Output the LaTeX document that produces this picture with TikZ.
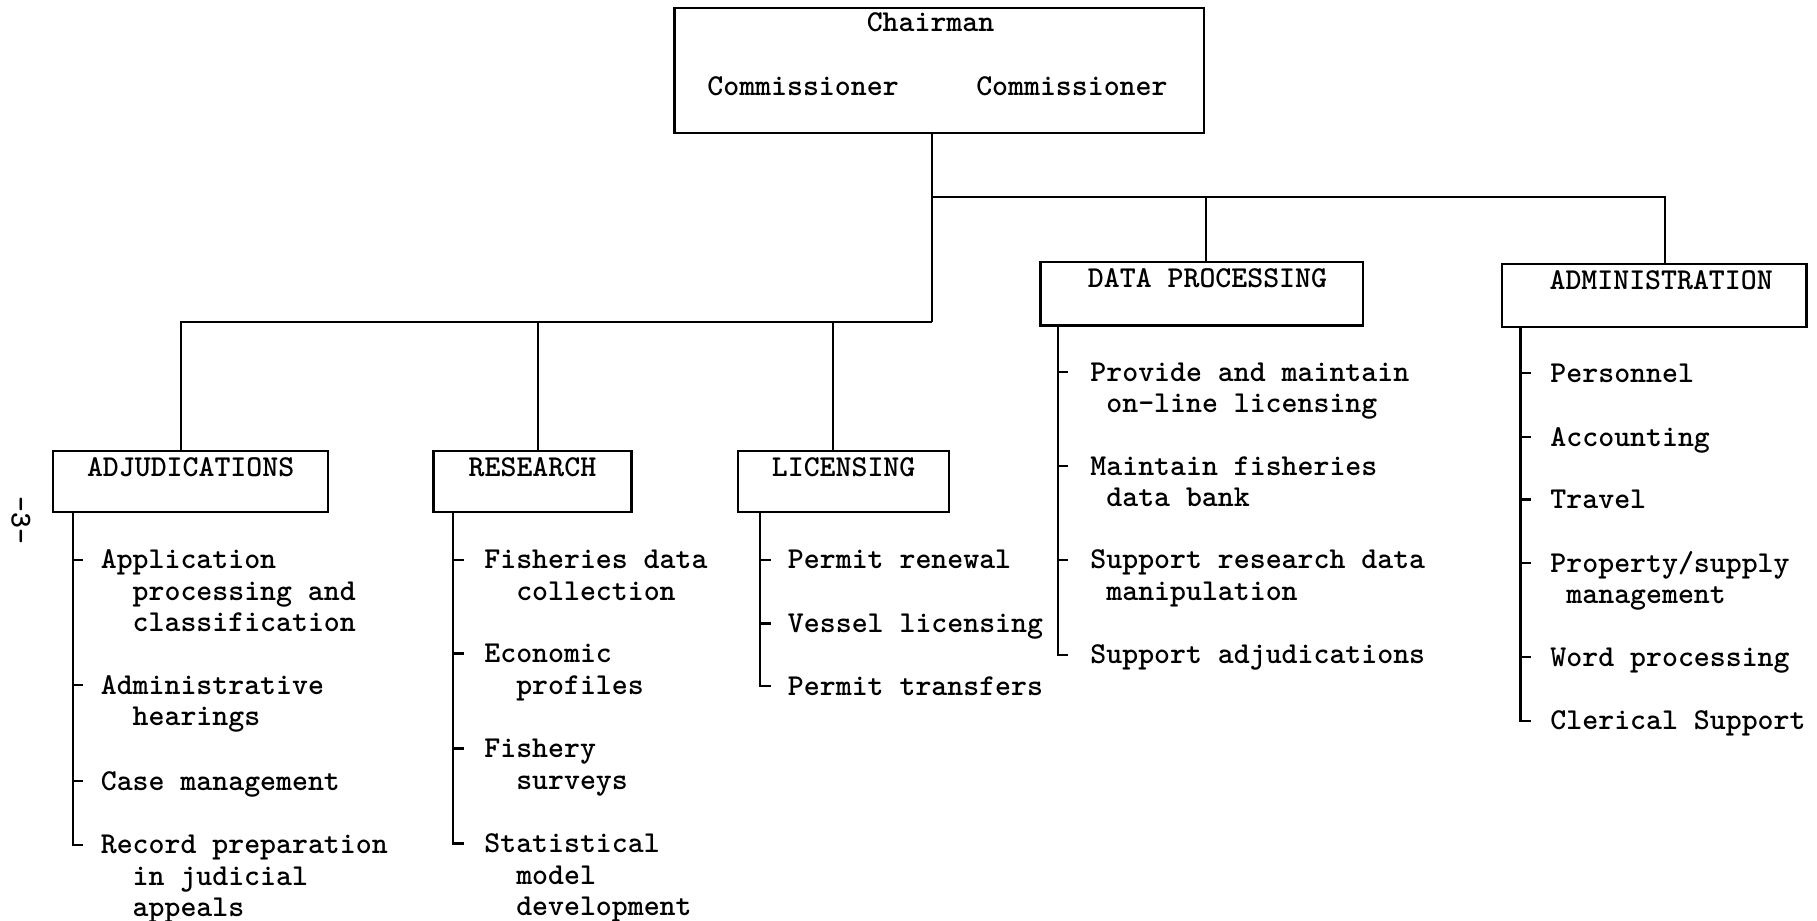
\documentclass[tikz,border=0pt]{standalone}
\usetikzlibrary{calc}
\newcommand\itemfont{\ttfamily\bfseries\fontsize{13.1}{13.5}\selectfont}
\newcommand\indtwo{\hphantom{xx}}
\newcommand\indone{\hphantom{x}}
\newcommand\tickto[2]{\coordinate (#2t) at ([yshift=-6pt]#2.north west); \draw (#1 |- #2t) -- ++(9,0);}
\newcommand\lastto[2]{\coordinate (#2t) at ([yshift=-6pt]#2.north west); \draw (#1) -- (#1 |- #2t) -- ++(9,0);}
\begin{document}
\begin{tikzpicture}[x=0.5pt,y=-0.5pt,line width=1pt,
  box/.style={draw, inner sep=0pt, font=\itemfont, text height=11pt, anchor=north west},
  item/.style={font=\itemfont, inner sep=0pt, anchor=north west, align=left},
  lbl/.style={font=\itemfont, inner sep=0pt, anchor=base}]
\useasboundingbox (0,0) rectangle (1568,794);
% top box
\node[draw, inner sep=0pt, minimum width=228.5pt, minimum height=54pt, anchor=north west] (top) at (581,6) {};
\node[lbl] (chair) at (803,27) {Chairman};
\node[lbl] (com1) at (693,82) {Commissioner};
\node[lbl] (com2) at (925,82) {Commissioner};
% branch boxes
\node[box, minimum width=118.5pt, minimum height=26.5pt, text depth=15.5pt] (adj) at (45,388) {ADJUDICATIONS};
\node[box, minimum width=85.5pt, minimum height=26.5pt, text depth=15.5pt] (res) at (373,388) {RESEARCH};
\node[box, minimum width=91pt, minimum height=26.5pt, text depth=15.5pt] (lic) at (636,388) {LICENSING};
\node[box, minimum width=139pt, minimum height=27.5pt, text depth=16.5pt] (dp) at (897,225) {\hspace{5pt}DATA PROCESSING};
\node[box, minimum width=131.5pt, minimum height=27pt, text depth=16pt] (adm) at (1295,227) {\hspace{6pt}ADMINISTRATION};
% page number
\node[font=\itemfont, rotate=-90, inner sep=0pt] (pg) at (18,449) {-3-};
% connectors
\coordinate (j1) at (804,170);
\coordinate (j2) at (804,278);
\draw (top.south -| j1) -- (j2);
\draw ([xshift=-4.25pt]adj.north) |- (j2);
\draw ([xshift=2.25pt]res.north) -- ([xshift=2.25pt]res.north |- j2);
\draw ([xshift=-4.5pt]lic.north) -- ([xshift=-4.5pt]lic.north |- j2);
\draw ([xshift=2pt]dp.north) |- (j1) -| ([xshift=4.75pt]adm.north);
% spines
\coordinate (sa) at ([xshift=9pt]adj.south west);
\coordinate (sr) at ([xshift=9pt]res.south west);
\coordinate (sl) at ([xshift=10pt]lic.south west);
\coordinate (sd) at ([xshift=8pt]dp.south west);
\coordinate (sm) at ([xshift=8.5pt]adm.south west);
% adjudications items
\node[item] (a1) at (86,471) {\strut Application\\\indtwo processing and\\\indtwo classification};
\node[item] (a2) at (86,579) {\strut Administrative\\\indtwo hearings};
\node[item] (a3) at (86,662) {\strut Case management};
\node[item] (a4) at (86,717) {\strut Record preparation\\\indtwo in judicial\\\indtwo appeals};
\tickto{sa}{a1}\tickto{sa}{a2}\tickto{sa}{a3}\lastto{sa}{a4}
% research items
\node[item] (r1) at (417,471) {\strut Fisheries data\\\indtwo collection};
\node[item] (r2) at (417,552) {\strut Economic\\\indtwo profiles};
\node[item] (r3) at (417,634) {\strut Fishery\\\indtwo surveys};
\node[item] (r4) at (417,716) {\strut Statistical\\\indtwo model\\\indtwo development};
\tickto{sr}{r1}\tickto{sr}{r2}\tickto{sr}{r3}\lastto{sr}{r4}
% licensing items
\node[item] (l1) at (679,471) {\strut Permit renewal};
\node[item] (l2) at (679,526) {\strut Vessel licensing};
\node[item] (l3) at (679,580) {\strut Permit transfers};
\tickto{sl}{l1}\tickto{sl}{l2}\lastto{sl}{l3}
% data processing items
\node[item] (d1) at (940,309) {\strut Provide and maintain\\\indone on-line licensing};
\node[item] (d2) at (940,390) {\strut Maintain fisheries\\\indone data bank};
\node[item] (d3) at (940,471) {\strut Support research data\\\indone manipulation};
\node[item] (d4) at (940,553) {\strut Support adjudications};
\tickto{sd}{d1}\tickto{sd}{d2}\tickto{sd}{d3}\lastto{sd}{d4}
% administration items
\node[item] (m1) at (1337,310) {\strut Personnel};
\node[item] (m2) at (1337,365) {\strut Accounting};
\node[item] (m3) at (1337,419) {\strut Travel};
\node[item] (m4) at (1337,474) {\strut Property/supply\\\indone management};
\node[item] (m5) at (1337,555) {\strut Word processing};
\node[item] (m6) at (1337,610) {\strut Clerical Support};
\tickto{sm}{m1}\tickto{sm}{m2}\tickto{sm}{m3}\tickto{sm}{m4}\tickto{sm}{m5}\lastto{sm}{m6}
\end{tikzpicture}
\end{document}
